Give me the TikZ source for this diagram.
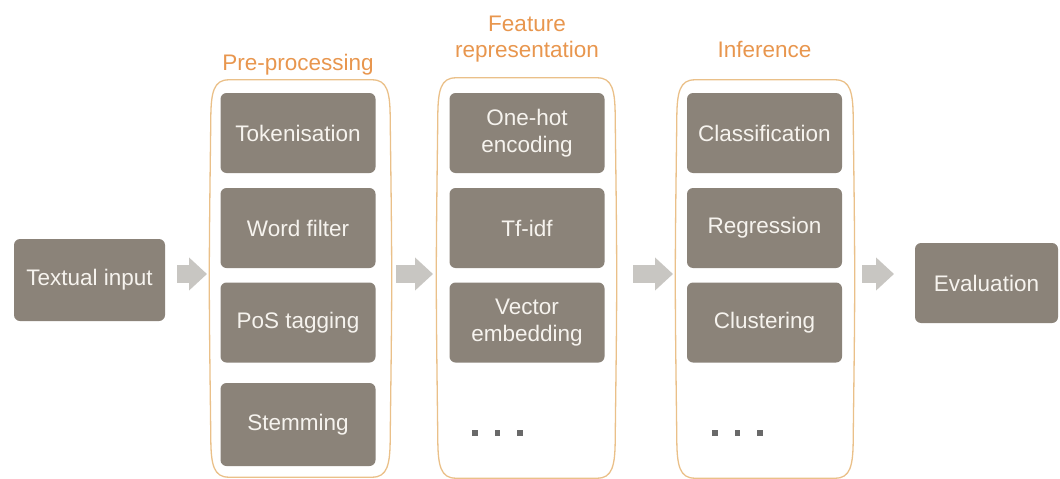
\documentclass[tikz,border=0pt]{standalone}
\usepackage{fontspec}
\setmainfont{Liberation Sans}
\usetikzlibrary{arrows.meta,calc}

\definecolor{stepfill}{RGB}{139,131,121}
\definecolor{steptext}{RGB}{246,243,238}
\definecolor{titleorange}{RGB}{232,150,78}
\definecolor{frameorange}{RGB}{234,192,137}
\definecolor{flowgray}{RGB}{200,198,194}
\definecolor{dotgray}{RGB}{105,105,105}

\tikzset{
  stepbox/.style={fill=stepfill, rounded corners=6pt, text=steptext,
    minimum width=155pt, minimum height=80pt, inner sep=0pt, align=center,
    font=\fontsize{22.5}{27}\selectfont},
  endbox/.style={stepbox, minimum height=82pt},
  stagetitle/.style={text=titleorange, align=center, anchor=base,
    font=\fontsize{22.5}{26}\selectfont, inner sep=0pt},
  stageframe/.style={draw=none, inner sep=0pt},
  frameline/.style={draw=frameorange, line width=1.3pt},
  flowarrow/.style={draw=flowgray, line width=18pt,
    -{Triangle[length=18pt,width=32pt]}},
  moredot/.style={fill=dotgray, minimum size=5.5pt, inner sep=0pt}
}

% barrel-shaped outline of a stage frame
\newcommand\stageoutline[1]{%
  \draw[frameline]
    ([xshift=18pt]#1.north west) -- ([xshift=-18pt]#1.north east)
    .. controls ([xshift=-3pt]#1.north east) and ([yshift=-12pt]#1.north east)
    .. ([yshift=-40pt]#1.north east)
    .. controls ([xshift=2pt]#1.east) and ([xshift=2pt]#1.east)
    .. ([yshift=40pt]#1.south east)
    .. controls ([yshift=12pt]#1.south east) and ([xshift=-3pt]#1.south east)
    .. ([xshift=-18pt]#1.south east) -- ([xshift=18pt]#1.south west)
    .. controls ([xshift=3pt]#1.south west) and ([yshift=12pt]#1.south west)
    .. ([yshift=40pt]#1.south west)
    .. controls ([xshift=-2pt]#1.west) and ([xshift=-2pt]#1.west)
    .. ([yshift=-40pt]#1.north west)
    .. controls ([yshift=-12pt]#1.north west) and ([xshift=3pt]#1.north west)
    .. cycle;}

\begin{document}
\begin{tikzpicture}[x=1pt,y=-1pt]
  \useasboundingbox (0,0) rectangle (1060,479);

  % stage frames
  \node[stageframe, minimum width=179pt, minimum height=397pt] (pre)  at (300.5,278.5) {};
  \node[stageframe, minimum width=177pt, minimum height=400pt] (feat) at (526.5,278) {};
  \node[stageframe, minimum width=176pt, minimum height=398pt] (inf)  at (765,279) {};
  \stageoutline{pre}
  \stageoutline{feat}
  \stageoutline{inf}

  % stage titles (base anchor sits on the last line)
  \node[stagetitle] (pretitle)  at (298,70) {Pre-processing};
  \node[stagetitle] (feattitle) at (527,57) {Feature\\representation};
  \node[stagetitle] (inftitle)  at (764.5,57) {Inference};

  % input and output
  \node[endbox, minimum width=151pt] (input) at (89.5,280) {Textual input};
  \node[stepbox, minimum width=143pt] (eval) at (986.5,283) {Evaluation};

  % pre-processing steps
  \node[stepbox] (tok)  at (298,133)   {Tokenisation};
  \node[stepbox] (wf)   at (298,228)   {Word filter};
  \node[stepbox] (pos)  at (298,322.5) {PoS tagging};
  \node[stepbox, minimum height=83pt] (stem) at (298,424.5) {Stemming};

  % feature representation steps
  \node[stepbox] (onehot) at (527,133)   {One-hot\\encoding};
  \node[stepbox] (tfidf)  at (527,228)   {Tf-idf};
  \node[stepbox] (vec)    at (527,322.5) {Vector\\embedding};
  \node[moredot] (fd1) at (475,433) {};
  \node[moredot] (fd2) at (497.5,433) {};
  \node[moredot] (fd3) at (520,433) {};

  % inference steps
  \node[stepbox] (cls) at (764.5,133)   {Classification};
  \node[stepbox] (reg) at (764.5,228)   {Regression};
  \node[stepbox] (clu) at (764.5,322.5) {Clustering};
  \node[moredot] (id1) at (715,433) {};
  \node[moredot] (id2) at (737.5,433) {};
  \node[moredot] (id3) at (760,433) {};

  % flow arrows between stages
  \coordinate (a1s) at (177,274);  \coordinate (a1e) at (207,274);
  \coordinate (a2s) at (396,274);  \coordinate (a2e) at (433,274);
  \coordinate (a3s) at (633,274);  \coordinate (a3e) at (673,274);
  \coordinate (a4s) at (862,274);  \coordinate (a4e) at (894,274);
  \draw[flowarrow] (a1s) -- (a1e);
  \draw[flowarrow] (a2s) -- (a2e);
  \draw[flowarrow] (a3s) -- (a3e);
  \draw[flowarrow] (a4s) -- (a4e);
\end{tikzpicture}
\end{document}
